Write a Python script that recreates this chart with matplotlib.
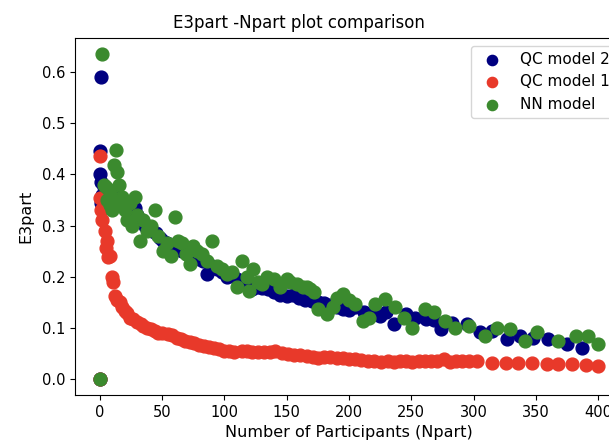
import matplotlib.pyplot as plt

# QC model 2 results
x_qc2 = [0, 0, 1, 0, 1, 2, 1, 3, 5, 7, 9, 11, 13, 15, 17, 19, 21, 23, 25, 28,
         30, 33, 36, 39, 42, 45, 48, 51, 54, 57, 60, 63, 66, 70, 73, 76, 80, 83,
         86, 90, 94, 98, 102, 106, 110, 114, 118, 122, 126, 130, 135, 140, 145,
         150, 155, 160, 165, 170, 175, 180, 185, 190, 195, 200, 205, 212, 218,
         225, 230, 236, 246, 253, 262, 268, 274, 283, 295, 305, 315, 327, 337,
         348, 360, 375, 387]
qc2 = [0.0, 0.445, 0.59, 0.40, 0.385, 0.36, 0.345, 0.375, 0.37, 0.36, 0.365,
       0.35, 0.355, 0.345, 0.35, 0.34, 0.335, 0.33, 0.33, 0.335, 0.32, 0.31,
       0.30, 0.295, 0.29, 0.285, 0.275, 0.27, 0.265, 0.26, 0.257, 0.255, 0.25,
       0.245, 0.24, 0.245, 0.235, 0.231, 0.205, 0.22, 0.215, 0.21, 0.2, 0.205,
       0.195, 0.19, 0.185, 0.175, 0.18, 0.178, 0.175, 0.17, 0.165, 0.163,
       0.165, 0.158, 0.155, 0.153, 0.15, 0.148, 0.145, 0.14, 0.137, 0.135,
       0.14, 0.13, 0.125, 0.123, 0.13, 0.107, 0.127, 0.12, 0.117, 0.115,
       0.098, 0.11, 0.107, 0.091, 0.093, 0.078, 0.084, 0.081, 0.078, 0.068,
       0.061]

# QC model 1 results
x_qc1 = [0, 0, 0, 1, 2, 4, 5, 6, 6.5, 8, 9.5, 10.5, 12, 14, 16, 18, 20, 22,
         24, 27, 30, 33, 35, 38, 41, 44, 47, 50, 55, 58, 62, 65, 68, 72, 76, 80,
         84, 88, 92, 96, 100, 104, 108, 114, 118, 122, 127, 132, 137, 141, 146,
         151, 156, 161, 166, 171, 175, 180, 185, 190, 195, 200, 205, 210, 215,
         220, 226, 231, 236, 241, 246, 251, 256, 261, 266, 271, 276, 281, 286,
         291, 296, 303, 315, 326, 336, 347, 359, 368, 379, 390, 400]
qc1 = [0.0, 0.437, 0.353, 0.33, 0.31, 0.29, 0.257, 0.27, 0.238, 0.241, 0.199,
       0.189, 0.163, 0.155, 0.15, 0.14, 0.133, 0.128, 0.12, 0.117, 0.112,
       0.107, 0.104, 0.1, 0.098, 0.094, 0.09, 0.09, 0.088, 0.085, 0.08, 0.078,
       0.075, 0.072, 0.07, 0.067, 0.065, 0.063, 0.06, 0.058, 0.055, 0.055,
       0.053, 0.055, 0.054, 0.053, 0.052, 0.053, 0.052, 0.054, 0.05, 0.048,
       0.047, 0.046, 0.044, 0.042, 0.04, 0.043, 0.042, 0.041, 0.04, 0.038,
       0.039, 0.037, 0.036, 0.035, 0.034, 0.035, 0.034, 0.035, 0.036, 0.034,
       0.035, 0.036, 0.035, 0.036, 0.038, 0.034, 0.035, 0.036, 0.035, 0.036,
       0.032, 0.032, 0.032, 0.031, 0.029, 0.029, 0.029, 0.028, 0.026]

# NN model results
x_nn = [0, 2, 13, 11, 14, 3, 5, 7, 6, 8, 9, 10, 12, 15, 16, 18, 20, 22, 24,
        26, 28, 30, 32, 35, 38, 41, 44, 47, 51, 54, 57, 60, 63, 66, 69, 72, 75,
        78, 82, 86, 90, 94, 98, 102, 106, 110, 114, 118, 120, 123, 127, 130,
        134, 140, 145, 150, 153, 158, 163, 166, 169, 172, 175, 182, 187, 190,
        195, 200, 205, 211, 216, 221, 229, 237, 244, 251, 261, 268, 277, 285,
        296, 309, 319, 329, 341, 351, 368, 382, 392, 400]
nn = [0.0, 0.635, 0.447, 0.418, 0.405, 0.38, 0.375, 0.37, 0.35, 0.34, 0.36,
      0.33, 0.345, 0.38, 0.34, 0.355, 0.33, 0.31, 0.345, 0.3, 0.355, 0.32,
      0.27, 0.31, 0.29, 0.3, 0.33, 0.28, 0.25, 0.265, 0.24, 0.316, 0.27,
      0.265, 0.245, 0.225, 0.26, 0.25, 0.245, 0.23, 0.27, 0.22, 0.215, 0.205,
      0.21, 0.179, 0.231, 0.2, 0.172, 0.215, 0.19, 0.185, 0.199, 0.195, 0.179,
      0.196, 0.19, 0.185, 0.18, 0.179, 0.176, 0.17, 0.137, 0.127, 0.14, 0.159,
      0.166, 0.155, 0.147, 0.114, 0.12, 0.147, 0.157, 0.14, 0.12, 0.1, 0.137,
      0.13, 0.114, 0.1, 0.104, 0.084, 0.1, 0.098, 0.075, 0.091, 0.075, 0.084,
      0.084, 0.068]

fig = plt.figure(figsize=(6.09, 4.48), dpi=100)
# axes run a bit past the right edge of the canvas
ax = fig.add_axes([0.123, 0.118, 0.900, 0.797])

ax.scatter(x_qc2, qc2, s=85, color='navy', label='QC model 2')
ax.scatter(x_qc1, qc1, s=85, color='#e8392a', label='QC model 1')
ax.scatter(x_nn, nn, s=85, color='#3b8a2e', label='NN model')

fig.suptitle('E3part -Npart plot comparison', fontsize=12,
             x=0.491, y=0.937, va='baseline')
ax.set_xlabel('Number of Participants (Npart)', fontsize=11.5)
ax.set_ylabel('E3part', fontsize=11.5, labelpad=6)
ax.tick_params(labelsize=10.5)
ax.legend(loc='upper right', fontsize=11, markerscale=0.8)

fig.savefig('out.png', dpi=100)
